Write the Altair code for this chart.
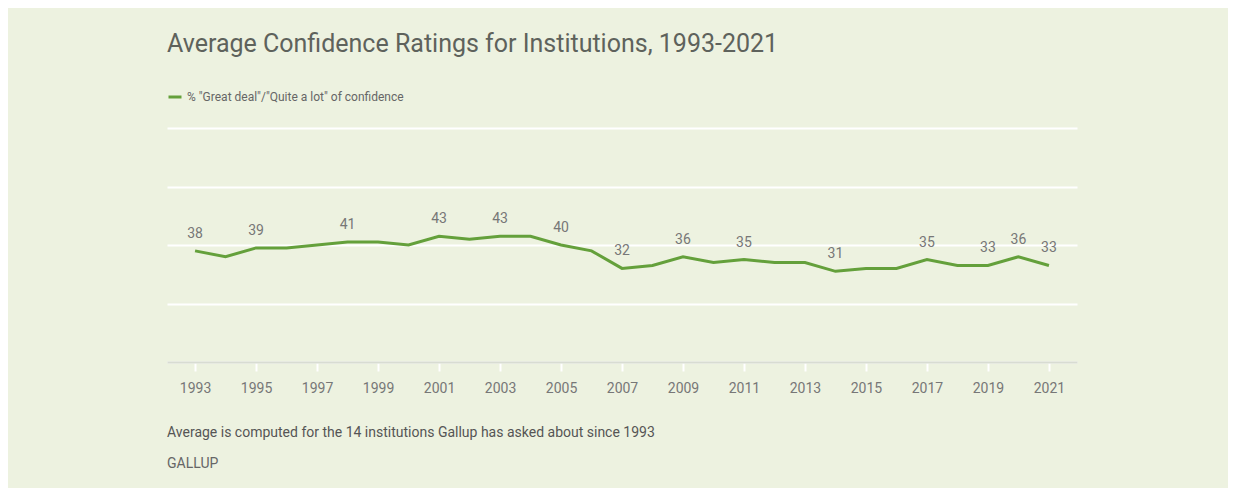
import altair as alt
import pandas as pd

years = list(range(1993, 2022))
values = [38, 36, 39, 39, 40, 41, 41, 40, 43, 42, 43, 43, 40, 38, 32,
          33, 36, 34, 35, 34, 34, 31, 32, 32, 35, 33, 33, 36, 33]
labeled_years = [1993, 1995, 1998, 2001, 2003, 2005, 2007, 2009, 2011,
                 2014, 2017, 2019, 2020, 2021]
tick_years = list(range(1993, 2022, 2))
series_name = '% "Great deal"/"Quite a lot" of confidence'
title_text = "Average Confidence Ratings for Institutions, 1993-2021"
note_text = "Average is computed for the 14 institutions Gallup has asked about since 1993"
source_text = "GALLUP"

BG = "#EDF2E0"
GREEN = "#64A03B"
FONT = "Roboto"

df = pd.DataFrame({"year": years, "value": values, "series": series_name})
df["show"] = df["year"].isin(labeled_years)

base = alt.Chart(df)

x = alt.X("year:Q",
          scale=alt.Scale(domain=[1992.08, 2021.92], nice=False, zero=False),
          axis=alt.Axis(values=tick_years, format="d", title=None, grid=False,
                        labelFont=FONT, labelFontSize=14, labelColor="#777777",
                        labelPadding=10, tickColor="#FFFFFF", tickWidth=2,
                        tickSize=9, domainColor="#D8DCD2", domainWidth=2))
y = alt.Y("value:Q",
          scale=alt.Scale(domain=[0, 80], nice=False),
          axis=alt.Axis(values=[0, 20, 40, 60, 80], title=None, labels=False,
                        ticks=False, domain=False, gridColor="#FFFFFF",
                        gridWidth=2, gridOpacity=1))

line = base.mark_line(strokeWidth=3).encode(
    x=x, y=y,
    color=alt.Color("series:N",
                    scale=alt.Scale(range=[GREEN]),
                    legend=alt.Legend(title=None, orient="none", legendX=0,
                                      legendY=-39, symbolType="stroke",
                                      symbolStrokeWidth=3, symbolSize=169,
                                      labelFont=FONT, labelFontSize=12,
                                      labelColor="#666666", labelLimit=600)))

labels = base.transform_filter("datum.show").mark_text(
    dy=-17, font=FONT, fontSize=14, color="#777777"
).encode(x="year:Q", y="value:Q", text="value:Q")

title = alt.Chart(pd.DataFrame({"t": [title_text]})).mark_text(
    align="left", baseline="alphabetic", font=FONT, fontSize=25,
    color="#5E625C").encode(x=alt.value(0), y=alt.value(-76), text="t:N")

note = alt.Chart(pd.DataFrame({"t": [note_text]})).mark_text(
    align="left", baseline="middle", font=FONT, fontSize=14,
    color="#555555").encode(x=alt.value(0), y=alt.value(305), text="t:N")

source = alt.Chart(pd.DataFrame({"t": [source_text]})).mark_text(
    align="left", baseline="middle", font=FONT, fontSize=14,
    color="#666666").encode(x=alt.value(0), y=alt.value(336), text="t:N")

chart = alt.layer(line, labels, title, note, source).properties(
    width=910, height=234,
    padding={"left": 159, "top": 120, "right": 151, "bottom": 126},
    autosize=alt.AutoSizeParams(type="none"),
    background=BG,
).configure_view(stroke=None)

chart.save("out.html", embed_options={"renderer": "svg", "actions": False})
